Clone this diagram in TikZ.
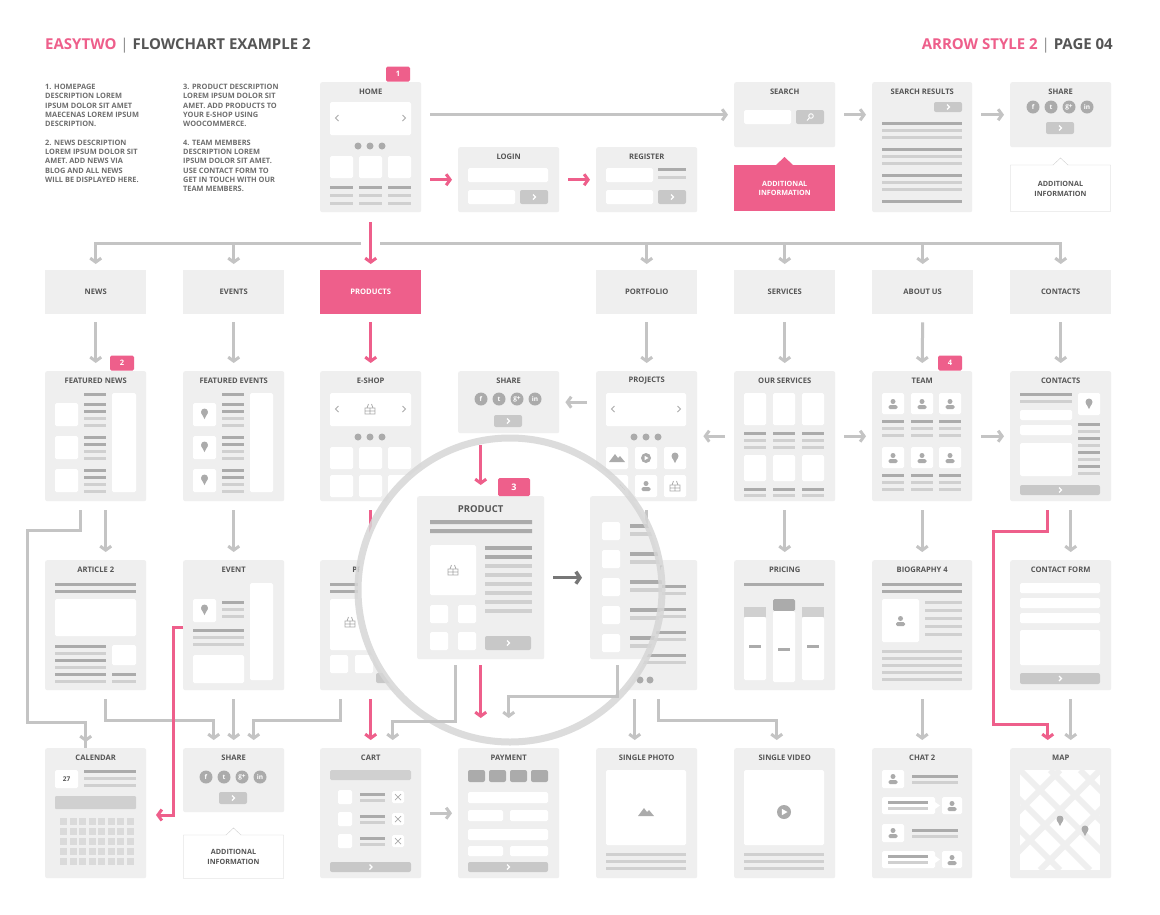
\documentclass[tikz,border=0pt]{standalone}
\usepackage{fontspec}
\setmainfont{Open Sans}
\usetikzlibrary{arrows.meta, positioning}
\definecolor{boxc}{HTML}{EFEFEF}
\definecolor{dkc}{HTML}{ABABAB}
\definecolor{ltc}{HTML}{D0D0D0}
\definecolor{btnc}{HTML}{C8C8C8}
\definecolor{arrc}{HTML}{C4C4C4}
\definecolor{pinkc}{HTML}{EE5F8B}
\definecolor{txtc}{HTML}{555555}
\definecolor{ringc}{HTML}{D6D6D6}

\tikzset{
  wbox/.style={fill=boxc, rounded corners=2pt, inner sep=0pt, anchor=north west},
  ttl/.style={font=\fontsize{7.6}{8}\selectfont\bfseries, text=txtc, inner sep=0pt},
  cat/.style={fill=boxc, inner sep=0pt, minimum width=101pt, minimum height=44pt, anchor=north west,
    font=\fontsize{7.6}{8}\selectfont\bfseries, text=txtc},
  badge/.style={fill=pinkc, text=white, font=\fontsize{7.5}{8}\selectfont\bfseries,
    minimum width=24pt, minimum height=15pt, inner sep=0pt, rounded corners=1.5pt},
  gline/.style={draw=arrc, line width=3pt},
  garrow/.style={gline, -{Straight Barb[length=4pt,width=11pt]}},
  parrow/.style={garrow, draw=pinkc},
  note/.style={font=\fontsize{7.4}{9.3}\selectfont\bfseries, text=txtc!85, align=left, anchor=north west, inner sep=0pt},
  info/.style={align=center, font=\fontsize{7.2}{9.5}\selectfont\bfseries}
}

% box with title
\newcommand\wbox[6]{\node[wbox, minimum width=#4pt, minimum height=#5pt] (#1) at (#2,#3) {};
  \node[ttl] at ([yshift=-10pt]#1.north) {#6};}
% wireframe pieces
\newcommand\wdk[3]{\fill[dkc] (#1,#3) rectangle (#2,#3+3);}
\newcommand\wlt[3]{\fill[ltc] (#1,#3) rectangle (#2,#3+3);}
\newcommand\wwt[4]{\fill[white, rounded corners=1.5pt] (#1,#2) rectangle (#3,#4);}
\newcommand\wbtn[4]{\fill[btnc, rounded corners=2pt] (#1,#2) rectangle (#3,#4);
  \draw[white, line width=1.2pt] ({(#1+#3)/2-1},{(#2+#4)/2-2.5}) -- ({(#1+#3)/2+1.5},{(#2+#4)/2}) -- ({(#1+#3)/2-1},{(#2+#4)/2+2.5});}
\newcommand\wdots[2]{\foreach \i in {-12,0,12} \fill[dkc] (#1+\i,#2) circle (3.5pt);}
\newcommand\wchev[4]{\draw[dkc, line width=1pt] (#1+1.5,#2-3) -- (#1-1.5,#2) -- (#1+1.5,#2+3);
  \draw[dkc, line width=1pt] (#3-1.5,#4-3) -- (#3+1.5,#4) -- (#3-1.5,#4+3);}
\newcommand\wpin[2]{\fill[dkc] (#1,#2-1) circle (3.5pt); \fill[dkc] (#1-3.2,#2) -- (#1,#2+6) -- (#1+3.2,#2) -- cycle;}
\newcommand\wper[2]{\fill[dkc] (#1,#2-2.5) circle (2.5pt); \fill[dkc, rounded corners=1.5pt] (#1-4.5,#2+1) rectangle (#1+4.5,#2+5);}
\newcommand\wbsk[2]{\draw[dkc, line width=0.8pt] (#1-5,#2-1) rectangle (#1+5,#2+5) (#1-5,#2+2) -- (#1+5,#2+2) (#1,#2-1) -- (#1,#2+5)
  (#1-3,#2-1) -- (#1-1.5,#2-5) (#1+3,#2-1) -- (#1+1.5,#2-5);}
\newcommand\wmtn[2]{\fill[dkc] (#1-8,#2+4) -- (#1-2,#2-4) -- (#1+1,#2) -- (#1+3,#2-2) -- (#1+8,#2+4) -- cycle;}
\newcommand\wplay[3]{\fill[dkc] (#1,#2) circle (#3pt); \fill[white] (#1-0.3*#3,#2-0.45*#3) -- (#1+0.5*#3,#2) -- (#1-0.3*#3,#2+0.45*#3) -- cycle;}
\newcommand\wsoc[2]{\foreach \i/\t in {0/f,18/t,36/g+,54/in} {\fill[dkc] (#1+\i,#2) circle (6.5pt);
  \node[text=white, font=\fontsize{6.5}{7}\selectfont\bfseries, inner sep=0pt] at (#1+\i,#2) {\t};}}

\begin{document}
\begin{tikzpicture}[x=1pt, y=-1pt]
\useasboundingbox[fill=white] (0,0) rectangle (1160,914);

% header
\node[anchor=west, inner sep=0pt, font=\fontsize{15}{17}\selectfont\bfseries] (head) at (45,46)
  {\textcolor{pinkc}{EASYTWO} \textcolor{txtc!70}{\mdseries|} \textcolor{txtc}{FLOWCHART EXAMPLE 2}};
\node[anchor=east, inner sep=0pt, font=\fontsize{15}{17}\selectfont\bfseries] (page) at (1113,46)
  {\textcolor{pinkc}{ARROW STYLE 2} \textcolor{txtc!70}{\mdseries|} \textcolor{txtc}{PAGE 04}};

% notes
\node[note] (notea) at (45,84) {1. HOMEPAGE\\DESCRIPTION LOREM\\IPSUM DOLOR SIT AMET\\MAECENAS LOREM IPSUM\\DESCRIPTION.\\[9.3pt]
  2. NEWS DESCRIPTION\\LOREM IPSUM DOLOR SIT\\AMET. ADD NEWS VIA\\BLOG AND ALL NEWS\\WILL BE DISPLAYED HERE.};
\node[note] (noteb) at (183,84) {3. PRODUCT DESCRIPTION\\LOREM IPSUM DOLOR SIT\\AMET. ADD PRODUCTS TO\\YOUR E-SHOP USING\\WOOCOMMERCE.\\[9.3pt]
  4. TEAM MEMBERS\\DESCRIPTION LOREM\\IPSUM DOLOR SIT AMET.\\USE CONTACT FORM TO\\GET IN TOUCH WITH OUR\\TEAM MEMBERS.};

% ---------- top row
\wbox{home}{320}{82}{101}{130}{HOME}
\node[badge] (b1) at (398,74) {1};
\wwt{330}{102}{411}{135} \wchev{337}{118}{404}{118}
\wdots{370}{146}
\foreach \x in {330,359,388} {\wwt{\x}{156}{\x+23}{178} \wdk{\x}{\x+23}{186} \wlt{\x}{\x+23}{194} \wlt{\x}{\x+23}{202}}

\wbox{login}{458}{147}{101}{65}{LOGIN}
\wwt{468}{168}{548}{182} \wwt{468}{190}{515}{204} \wbtn{520}{190}{548}{204}

\wbox{reg}{596}{147}{101}{65}{REGISTER}
\wwt{606}{168}{653}{182} \wdk{658}{686}{168} \wlt{658}{686}{176} \wwt{606}{190}{653}{204} \wbtn{658}{190}{686}{204}

\wbox{search}{734}{82}{101}{65}{SEARCH}
\wwt{744}{110}{791}{124} \fill[btnc, rounded corners=2pt] (796,110) rectangle (824,124);
\draw[white, line width=0.9pt] (811,116) circle (2.3pt) (809.3,118) -- (807,120.5);

\wbox{sres}{872}{82}{100}{130}{SEARCH RESULTS}
\wbtn{934}{102}{962}{112}
\foreach \y in {122,148,174} {\wdk{882}{962}{\y} \wlt{882}{962}{\y+7} \wlt{882}{962}{\y+14}}
\wdk{882}{962}{200}

\wbox{share}{1010}{82}{101}{65}{SHARE}
\wsoc{1033}{107} \wbtn{1046}{122}{1074}{134}

\node[fill=pinkc, text=white, minimum width=101pt, minimum height=46pt, inner sep=0pt, anchor=north west, info] (infoa) at (734,165) {ADDITIONAL\\INFORMATION};
\fill[pinkc] (776,165) -- (784.5,157) -- (793,165) -- cycle;
\draw[ltc, fill=white] (1010.5,165) -- (1053,165) -- (1060.5,158) -- (1068,165) -- (1110.5,165) -- (1110.5,211.5) -- (1010.5,211.5) -- cycle;
\node[text=txtc, info] (infob) at (1060.5,189) {ADDITIONAL\\INFORMATION};

% ---------- categories
\node[cat] (cnews) at (45,270) {NEWS};
\node[cat] (cevt) at (183,270) {EVENTS};
\node[cat, fill=pinkc, text=white] (cprod) at (320,270) {PRODUCTS};
\node[cat] (cport) at (596,270) {PORTFOLIO};
\node[cat] (cserv) at (734,270) {SERVICES};
\node[cat] (cabout) at (872,270) {ABOUT US};
\node[cat] (ccont) at (1010,270) {CONTACTS};

% ---------- row 3
\wbox{fnews}{45}{371}{101}{130}{FEATURED NEWS}
\node[badge] (b2) at (122,363) {2};
\foreach \y in {403,436,469} {\wwt{55}{\y}{78}{\y+23} \wdk{84}{106}{\y} \wdk{84}{106}{\y+7} \wlt{84}{106}{\y+14} \wlt{84}{106}{\y+21}}
\wdk{84}{106}{393} \wwt{112}{393}{136}{492}

\wbox{fevt}{183}{371}{101}{130}{FEATURED EVENTS}
\foreach \y in {403,436,469} {\wwt{193}{\y}{216}{\y+23} \wpin{204.5}{\y+10} \wdk{222}{244}{\y} \wdk{222}{244}{\y+7} \wlt{222}{244}{\y+14} \wlt{222}{244}{\y+21}}
\wdk{222}{244}{393} \wwt{250}{393}{273}{492}

\wbox{eshop}{320}{371}{101}{130}{E-SHOP}
\wwt{330}{393}{411}{426} \wchev{337}{409}{404}{409} \wbsk{370}{409}
\wdots{370}{437}
\foreach \x in {330,359,388} {\wwt{\x}{447}{\x+23}{469} \wwt{\x}{475}{\x+23}{497}}

\wbox{share4}{458}{371}{101}{62}{SHARE}
\wsoc{481}{399} \wbtn{494}{415}{522}{427}

\wbox{proj}{596}{371}{101}{130}{PROJECTS}
\wwt{606}{393}{686}{426} \wchev{613}{409}{679}{409}
\wdots{646}{437}
\foreach \x in {606,635,664} {\wwt{\x}{447}{\x+22}{469} \wwt{\x}{475}{\x+22}{497}}
\wmtn{617}{458} \wplay{646}{458}{5} \wpin{675}{457} \wmtn{617}{486} \wper{646}{486} \wbsk{675}{486}

\wbox{serv}{734}{371}{101}{130}{OUR SERVICES}
\foreach \x in {744,773,802} {\wwt{\x}{393}{\x+22}{425} \wdk{\x}{\x+22}{432} \wlt{\x}{\x+22}{439} \wlt{\x}{\x+22}{446}
  \wwt{\x}{455}{\x+22}{481} \wdk{\x}{\x+22}{488} \wlt{\x}{\x+22}{494}}

\wbox{team}{872}{371}{100}{130}{TEAM}
\node[badge] (b4) at (950,363) {4};
\foreach \x in {882,911,939} {\wwt{\x}{393}{\x+22}{414} \wper{\x+11}{404} \wdk{\x}{\x+22}{420} \wlt{\x}{\x+22}{427} \wlt{\x}{\x+22}{434}
  \wwt{\x}{447}{\x+22}{468} \wper{\x+11}{458} \wdk{\x}{\x+22}{474} \wlt{\x}{\x+22}{481} \wlt{\x}{\x+22}{488}}

\wbox{cont}{1010}{371}{101}{130}{CONTACTS}
\wdk{1020}{1072}{393} \wlt{1020}{1072}{400} \wwt{1078}{393}{1100}{415} \wpin{1089}{403}
\wwt{1020}{410}{1072}{420} \wwt{1020}{425}{1072}{435}
\foreach \y in {423,437,451,465} {\wdk{1078}{1100}{\y} \wlt{1078}{1100}{\y+7}}
\wwt{1020}{443}{1072}{476} \wbtn{1020}{485}{1100}{495}

% ---------- row 4
\wbox{art}{45}{560}{101}{130}{ARTICLE 2}
\wdk{55}{136}{583} \wdk{55}{136}{590} \wwt{55}{599}{136}{636}
\foreach \y in {645,659,673} {\wdk{55}{106}{\y} \wlt{55}{106}{\y+7}}
\wwt{112}{645}{136}{665} \wdk{112}{136}{673} \wlt{112}{136}{680}

\wbox{event}{183}{560}{101}{130}{EVENT}
\wwt{193}{599}{216}{622} \wpin{204.5}{609} \wdk{222}{244}{601} \wlt{222}{244}{608} \wlt{222}{244}{615}
\wwt{250}{583}{273}{680} \wdk{193}{244}{629} \wlt{193}{244}{636} \wlt{193}{244}{643} \wwt{193}{655}{244}{683}

\wbox{pr3}{320}{560}{101}{130}{PRODUCT}
\wdk{330}{411}{583} \wdk{330}{411}{590} \wwt{330}{599}{370}{650} \wbsk{350}{622}
\foreach \y in {600,610,620,630,640} {\wlt{376}{411}{\y}}
\wwt{330}{655}{348}{673} \wwt{355}{655}{373}{673} \wbtn{376}{673}{411}{683}

\wbox{pj4}{596}{560}{101}{130}{PROJECT}
\foreach \y in {583,606,629,652} {\wwt{606}{\y}{624}{\y+18} \wdk{630}{686}{\y+2} \wlt{630}{686}{\y+9}}
\fill[dkc] (640,680) circle (3.5pt) (650,680) circle (3.5pt);

\wbox{pricing}{734}{560}{101}{130}{PRICING}
\wdk{744}{824}{583}
\foreach \x in {744,802} {\fill[ltc] (\x,607) rectangle (\x+22,617); \wwt{\x}{617}{\x+22}{680} \wdk{\x+5}{\x+17}{645}}
\fill[dkc, rounded corners=1.5pt] (773,599) rectangle (795,611); \wwt{773}{611}{795}{682} \wdk{778}{790}{648}

\wbox{bio}{872}{560}{100}{130}{BIOGRAPHY 4}
\wdk{882}{962}{583} \wdk{882}{962}{590} \wwt{882}{599}{919}{642} \wper{900.5}{621}
\foreach \y in {601,609,617,625,633} {\wlt{925}{962}{\y}}
\foreach \y in {650,657,664,671,678} {\wlt{882}{962}{\y}}

\wbox{cform}{1010}{560}{101}{130}{CONTACT FORM}
\wwt{1020}{583}{1100}{593} \wwt{1020}{598}{1100}{608} \wwt{1020}{613}{1100}{623}
\wwt{1020}{630}{1100}{665} \wbtn{1020}{673}{1100}{684}

% ---------- row 5
\wbox{cal}{45}{748}{101}{130}{CALENDAR}
\wwt{55}{770}{78}{788} \node[text=txtc, font=\fontsize{6.5}{7}\selectfont\bfseries] at (66.5,779) {27};
\wdk{84}{136}{770} \wlt{84}{136}{777} \wlt{84}{136}{784}
\fill[ltc, rounded corners=1pt] (55,796) rectangle (136,809);
\foreach \r in {0,...,4} \foreach \c in {0,...,7} \fill[ltc!80] (60+\c*9.5,818+\r*10) rectangle ++(7,7);

\wbox{share2}{183}{748}{101}{64}{SHARE}
\wsoc{206}{777} \wbtn{219}{792}{247}{804}
\draw[ltc, fill=white] (183.5,835) -- (226,835) -- (233.5,828) -- (241,835) -- (283.5,835) -- (283.5,878.5) -- (183.5,878.5) -- cycle;
\node[text=txtc, info] (infoc) at (233.5,857) {ADDITIONAL\\INFORMATION};

\wbox{cart}{320}{748}{101}{130}{CART}
\fill[ltc, rounded corners=1.5pt] (330,770) rectangle (411,780);
\foreach \y in {790,812,834} {\wwt{338}{\y}{352}{\y+14} \wdk{360}{385}{\y+3} \wlt{360}{385}{\y+9}
  \wwt{392}{\y+1}{404}{\y+13} \draw[dkc, line width=0.7pt] (395,\y+4) -- (401,\y+10) (401,\y+4) -- (395,\y+10);}
\wbtn{330}{862}{411}{872}

\wbox{pay}{458}{748}{101}{130}{PAYMENT}
\foreach \x in {468,489,510,531} \fill[dkc, rounded corners=2pt] (\x,770) rectangle (\x+17,782);
\wwt{468}{792}{548}{803} \wwt{468}{810}{503}{821} \wwt{510}{810}{548}{821}
\wwt{468}{829}{548}{840} \wwt{468}{846}{503}{856} \wwt{510}{846}{548}{856} \wbtn{468}{862}{548}{872}

\wbox{photo}{596}{748}{101}{130}{SINGLE PHOTO}
\wwt{606}{770}{686}{845} \wmtn{646}{812}
\foreach \y in {853,860,867} {\wlt{606}{686}{\y}}

\wbox{video}{734}{748}{101}{130}{SINGLE VIDEO}
\wwt{744}{770}{824}{845} \wplay{784}{812}{7}
\foreach \y in {853,860,867} {\wlt{744}{824}{\y}}

\wbox{chat}{872}{748}{100}{130}{CHAT 2}
\foreach \y in {770,824} {\wwt{882}{\y}{904}{\y+18} \wper{893}{\y+9} \wdk{912}{958}{\y+5} \wlt{912}{958}{\y+11}
  \wwt{882}{\y+27}{935}{\y+44} \fill[white] (935,\y+32) -- (940,\y+35.5) -- (935,\y+39) -- cycle;
  \wdk{888}{928}{\y+31} \wlt{888}{928}{\y+37} \wwt{942}{\y+27}{962}{\y+44} \wper{952}{\y+36}}

\wbox{map}{1010}{748}{101}{130}{MAP}
\begin{scope}
  \clip (1020,770) rectangle (1100,870);
  \fill[white] (1020,770) rectangle (1100,870);
  \foreach \d in {-60,-30,0,30,60} \draw[boxc, line width=6pt] (1020+\d,770) -- (1120+\d,870);
  \foreach \d in {-40,0,40} \draw[boxc, line width=6pt] (1100+\d,770) -- (1000+\d,870);
\end{scope}
\wpin{1060}{820} \wpin{1085}{830}

% ---------- connectors
\draw[garrow, shorten <=9pt, shorten >=6pt] (home.east |- search.west) -- (search.west);
\draw[parrow, shorten <=9pt, shorten >=6pt] (home.east |- login.west) -- (login.west);
\draw[parrow, shorten <=9pt, shorten >=6pt] (login.east) -- (reg.west);
\draw[garrow, shorten <=9pt, shorten >=6pt] (search.east) -- (sres.west |- search.east);
\draw[garrow, shorten <=9pt, shorten >=6pt] (sres.east |- share.west) -- (share.west);

\coordinate (bus) at (0,243);
\draw[parrow, shorten <=10pt, shorten >=6pt] (home.south) -- (cprod.north);
\draw[garrow, shorten >=6pt] (361,243) -| (cnews.north);
\draw[garrow, shorten >=6pt] (380,243) -| (ccont.north);
\foreach \c in {cevt,cport,cserv,cabout}
  \draw[garrow, shorten >=6pt] (\c.north |- bus) -- (\c.north);

\draw[garrow, shorten <=8pt, shorten >=8pt] (cnews.south) -- (fnews.north);
\draw[garrow, shorten <=8pt, shorten >=8pt] (cevt.south) -- (fevt.north);
\draw[parrow, shorten <=8pt, shorten >=8pt] (cprod.south) -- (eshop.north);
\draw[garrow, shorten <=8pt, shorten >=8pt] (cport.south) -- (proj.north);
\draw[garrow, shorten <=8pt, shorten >=8pt] (cserv.south) -- (serv.north);
\draw[garrow, shorten <=8pt, shorten >=8pt] (cabout.south) -- (team.north);
\draw[garrow, shorten <=8pt, shorten >=8pt] (ccont.south) -- (cont.north);

\draw[garrow, shorten <=9pt, shorten >=6pt] (proj.west |- share4.east) -- (share4.east);
\draw[garrow, shorten <=9pt, shorten >=6pt] (serv.west) -- (proj.east);
\draw[garrow, shorten <=9pt, shorten >=6pt] (serv.east) -- (team.west);
\draw[garrow, shorten <=9pt, shorten >=6pt] (team.east) -- (cont.west);

% row 3 to row 4
\draw[gline, shorten <=9pt] ([xshift=-15pt]fnews.south) -- ++(0,29) -| (27,722) -| ([xshift=-10pt]cal.north);
\draw[garrow, shorten >=6pt] ([xshift=-10pt]cal.north |- 0,722) -- ([xshift=-10pt]cal.north);
\draw[garrow, shorten <=9pt, shorten >=8pt] ([xshift=10pt]fnews.south) -- ([xshift=10pt]art.north);
\draw[garrow, shorten <=9pt, shorten >=8pt] (fevt.south) -- (event.north);
\draw[parrow, shorten <=9pt, shorten >=8pt] (eshop.south) -- (pr3.north);
\draw[garrow, shorten <=9pt, shorten >=8pt] (proj.south) -- (pj4.north);
\draw[garrow, shorten <=9pt, shorten >=8pt] (serv.south) -- (pricing.north);
\draw[garrow, shorten <=9pt, shorten >=8pt] (team.south) -- (bio.north);
\draw[garrow, shorten <=9pt, shorten >=8pt] ([xshift=10pt]cont.south) -- ([xshift=10pt]cform.north);
\draw[parrow, shorten <=9pt, shorten >=8pt] ([xshift=-13pt]cont.south) -- ++(0,30) -| (993,724) -| ([xshift=-13pt]map.north);

% row 4 to row 5
\draw[garrow, shorten <=9pt, shorten >=8pt] ([xshift=10pt]art.south) -- ++(0,30) -| ([xshift=-20pt]share2.north);
\draw[garrow, shorten <=9pt, shorten >=8pt] (event.south) -- (share2.north);
\draw[garrow, shorten <=9pt, shorten >=8pt] ([xshift=-30pt]pr3.south) -- ++(0,30) -| ([xshift=20pt]share2.north);
\draw[parrow, shorten <=9pt, shorten >=8pt] (pr3.south) -- (cart.north);
\draw[garrow, shorten <=9pt, shorten >=8pt] ([xshift=-12pt]pj4.south) -- ([xshift=-12pt]photo.north);
\draw[garrow, shorten <=9pt, shorten >=8pt] ([xshift=12pt]pj4.south) -- ++(0,30) -| ([xshift=-8pt]video.north);
\draw[garrow, shorten <=9pt, shorten >=8pt] (bio.south) -- (chat.north);
\draw[garrow, shorten <=9pt, shorten >=8pt] ([xshift=10pt]cform.south) -- ([xshift=10pt]map.north);
\draw[parrow, shorten >=2pt] (event.west |- 0,627) -| (173,815) -- (154,815);
\draw[garrow, shorten <=9pt, shorten >=6pt] (cart.east) -- (pay.west);

% ---------- magnifier
\begin{scope}
  \clip (510,590) circle (152pt);
  \fill[white] (510,590) circle (152pt);
  \node[wbox, minimum width=127pt, minimum height=163pt] (bigprod) at (417,496) {};
  \node[ttl, font=\fontsize{9.5}{10}\selectfont\bfseries] at ([yshift=-13pt]bigprod.north) {PRODUCT};
  \fill[dkc] (430,520) rectangle (532,524) (430,529) rectangle (532,533);
  \wwt{430}{545}{476}{595} \wbsk{453}{570}
  \foreach \y in {546,555} {\fill[dkc] (485,\y) rectangle (532,\y+4);}
  \foreach \y in {564,573,582,591,600,609} {\fill[ltc] (485,\y) rectangle (532,\y+4);}
  \wwt{430}{605}{448}{623} \wwt{458}{605}{476}{623} \wwt{430}{632}{448}{650} \wwt{458}{632}{476}{650}
  \wbtn{485}{636}{531}{650}
  \node[wbox, minimum width=110pt, minimum height=163pt] (rbox) at (590,496) {};
  \foreach \y in {522,550,578,606,634} {\wwt{602}{\y}{620}{\y+18} \fill[dkc] (630,\y+2) rectangle (700,\y+6); \fill[ltc] (630,\y+10) rectangle (700,\y+14);}
  \draw[draw=txtc!80, line width=3.5pt, -{Straight Barb[length=4pt,width=12pt]}, shorten <=9pt, shorten >=8pt] (bigprod.east) -- (rbox.west);
\end{scope}
\draw[ringc, line width=7pt, opacity=0.85] (510,590) circle (152pt);
\node[badge, minimum width=32pt, minimum height=18pt, font=\fontsize{9}{10}\selectfont\bfseries] (b3) at (514,487) {3};

\draw[parrow, shorten <=12pt, shorten >=11pt] (bigprod.north |- share4.south) -- (bigprod.north);
\draw[garrow, shorten <=6pt, shorten >=8pt] ([xshift=-25pt]bigprod.south) -- ++(0,62) -| ([xshift=22pt]cart.north);
\draw[parrow, shorten <=6pt, shorten >=30pt] (bigprod.south) -- (bigprod.south |- pay.north);
\draw[garrow, shorten <=6pt, shorten >=30pt] ([xshift=-28pt]rbox.south) -- ++(0,37) -| (pay.north);

\end{tikzpicture}
\end{document}
